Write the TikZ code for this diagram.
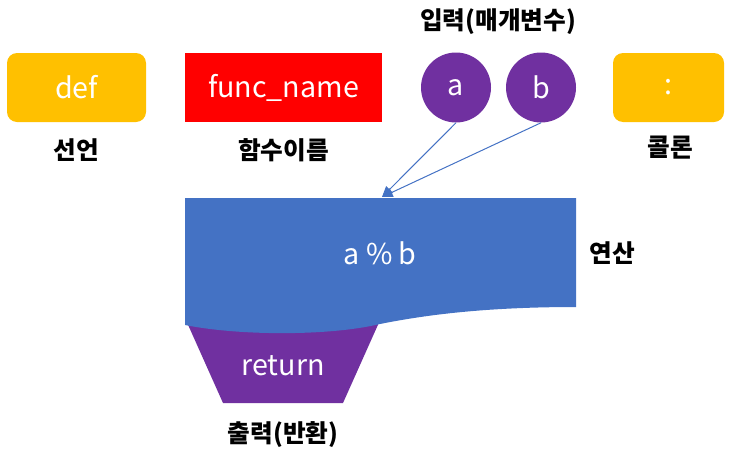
\documentclass[tikz,border=0pt]{standalone}
\usepackage{fontspec}
\setmainfont{Noto Sans CJK KR}
\usepackage{tikz}
\usetikzlibrary{arrows.meta}
\usepackage{xcolor}
\definecolor{declyellow}{HTML}{FFC000}
\definecolor{namered}{HTML}{FF0000}
\definecolor{argpurple}{HTML}{7030A0}
\definecolor{calcblue}{HTML}{4472C4}

\begin{document}
\begin{tikzpicture}[x=0.75pt,y=0.75pt,yscale=-1,
  wtext/.style={text=white,font=\fontsize{21.5}{24}\selectfont,inner sep=0.75pt},
  krlabel/.style={font=\fontsize{18.5}{21}\selectfont\bfseries,inner sep=0.75pt},
  keybox/.style={wtext,minimum width=104.25pt,minimum height=51.75pt,rounded corners=7.5pt,fill=declyellow},
  argcirc/.style={wtext,circle,minimum size=52.5pt,fill=argpurple}]
%set diagram left start at 0, and has height of 457
\useasboundingbox (0,0) rectangle (734,457);

%Shape: Trapezoid [id:return]
\fill [argpurple] (185,318) -- (381,318) -- (343,403) -- (223,403) -- cycle ;
%Shape: Wave [id:calc]
\fill [calcblue] (185,198) -- (576,198) -- (576,307) .. controls (480,307) and (420,316) .. (380,324) .. controls (330,336) and (240,336) .. (185,325) -- cycle ;

% Shapes with text
\draw (76.5,87.5) node (decl) [keybox] {def};
\draw (283.5,87.5) node (fname) [wtext,fill=namered,minimum width=147.75pt,minimum height=51.75pt] {func\_name};
\draw (456,87.5) node (arga) [argcirc] {a};
\draw (541,87.5) node (argb) [argcirc] {b};
\draw (668.5,87.5) node (colon) [keybox,minimum width=83.25pt] {:};
\draw (380,253) node (calc) [wtext] {a \% b};
\draw (283,366) node (ret) [wtext] {return};

% Text Node
\draw (76.5,150) node (declLbl) [krlabel] {선언};
% Text Node
\draw (283.5,150) node (fnameLbl) [krlabel] {함수이름};
% Text Node
\draw (498,22) node (argLbl) [krlabel] {입력(매개변수)};
% Text Node
\draw (670.5,148) node (colonLbl) [krlabel] {콜론};
% Text Node
\draw (612,253) node (calcLbl) [krlabel] {연산};
% Text Node
\draw (283,435) node (retLbl) [krlabel] {출력(반환)};

%Straight Lines [id:args]
\coordinate (tip) at (382,197);
\draw [calcblue,line width=0.75pt,-{Triangle[length=8pt,width=7pt]}] (arga.south) -- (tip) ;
\draw [calcblue,line width=0.75pt,-{Triangle[length=8pt,width=7pt]}] (argb.south) -- (tip) ;

\end{tikzpicture}
\end{document}
